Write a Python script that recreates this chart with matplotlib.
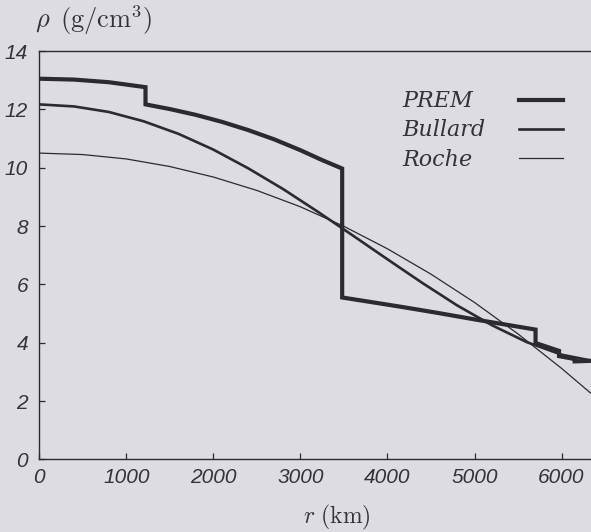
import matplotlib
matplotlib.use("Agg")
import matplotlib.pyplot as plt
from matplotlib.lines import Line2D

# ---- data ----
prem_r = [0, 400, 800, 1221, 1221, 1500, 1800, 2100, 2400, 2700, 3000, 3250, 3480,
          3480, 3800, 4200, 4600, 5000, 5400, 5701, 5701, 5971, 5971, 6151, 6151,
          6346]
prem_rho = [13.05, 13.02, 12.93, 12.76, 12.17, 12.01, 11.81, 11.57, 11.29, 10.97,
            10.60, 10.26, 9.97, 5.55, 5.40, 5.21, 5.01, 4.80, 4.60, 4.45, 3.99,
            3.72, 3.54, 3.44, 3.36, 3.38]

bullard_r = [0, 400, 800, 1200, 1600, 2000, 2400, 2800, 3200, 3600, 4000, 4400,
             4800, 5200, 5600, 6000, 6371]
bullard_rho = [12.17, 12.10, 11.91, 11.59, 11.16, 10.62, 9.98, 9.27, 8.49, 7.68,
               6.86, 6.05, 5.28, 4.60, 4.02, 3.59, 3.37]

roche_r = [0, 500, 1000, 1500, 2000, 2500, 3000, 3500, 4000, 4500, 5000, 5500,
           6000, 6371]
roche_rho = [10.50, 10.45, 10.30, 10.04, 9.68, 9.22, 8.66, 7.99, 7.22, 6.35,
             5.38, 4.30, 3.12, 2.18]

labels = ["PREM", "Bullard", "Roche"]
widths = [3.0, 1.9, 0.9]
xticks = [0, 1000, 2000, 3000, 4000, 5000, 6000]
yticks = [0, 2, 4, 6, 8, 10, 12, 14]

# ---- style ----
bg = "#dcdce2"
ink = "#2a2a32"
txt = "#333338"
W, H = 591, 532
plt.rcParams["mathtext.fontset"] = "cm"
fig = plt.figure(figsize=(W / 100, H / 100), dpi=100, facecolor=bg)
left, right, top, bottom = 39.2, 591, 51, 459.4
ax = fig.add_axes([left / W, 1 - bottom / H, (right - left) / W, (bottom - top) / H])
ax.set_facecolor(bg)

series = [(prem_r, prem_rho), (bullard_r, bullard_rho), (roche_r, roche_rho)]
for (r, rho), lab, lw in zip(series, labels, widths):
    ax.plot(r, rho, color=ink, lw=lw, solid_joinstyle="miter", label=lab)

ax.set_xlim(0, 6338)
ax.set_ylim(0, 14)
ax.set_xticks(xticks)
ax.set_yticks(yticks)
tickfont = dict(family="Liberation Sans", style="italic", size=15)
ax.set_xticklabels([str(v) for v in xticks], fontdict=tickfont, color=txt)
ax.set_yticklabels([str(v) for v in yticks], fontdict=tickfont, color=txt)
ax.tick_params(axis="both", direction="in", length=4.5, width=0.9, color=ink)
ax.tick_params(axis="x", pad=6)
ax.tick_params(axis="y", pad=8)
for s in ["left", "bottom", "top"]:
    ax.spines[s].set_color(ink)
    ax.spines[s].set_linewidth(1.0)
ax.spines["right"].set_visible(False)

fig.text(35 / W, 1 - 28 / H, r"$\rho\ \,(\mathrm{g/cm}^3)$", fontsize=19,
         color=txt, ha="left", va="baseline")
fig.text(337 / W, 1 - 523 / H, r"$r\ (\mathrm{km})$", fontsize=17,
         color=txt, ha="center", va="baseline")

# legend: labels on the left, line samples on the right
text_base = [107, 136.5, 165.5]
line_y = [99.5, 129, 157.5]
for lab, lw, yb, yl in zip(labels, widths, text_base, line_y):
    fig.text(402 / W, 1 - yb / H, lab, family="DejaVu Serif", style="italic",
             fontsize=16, color=txt, ha="left", va="baseline")
    fig.add_artist(Line2D([519 / W, 563 / W], [1 - yl / H, 1 - yl / H],
                          color=ink, lw=lw, transform=fig.transFigure))

fig.savefig("out.png", dpi=100, facecolor=bg)
